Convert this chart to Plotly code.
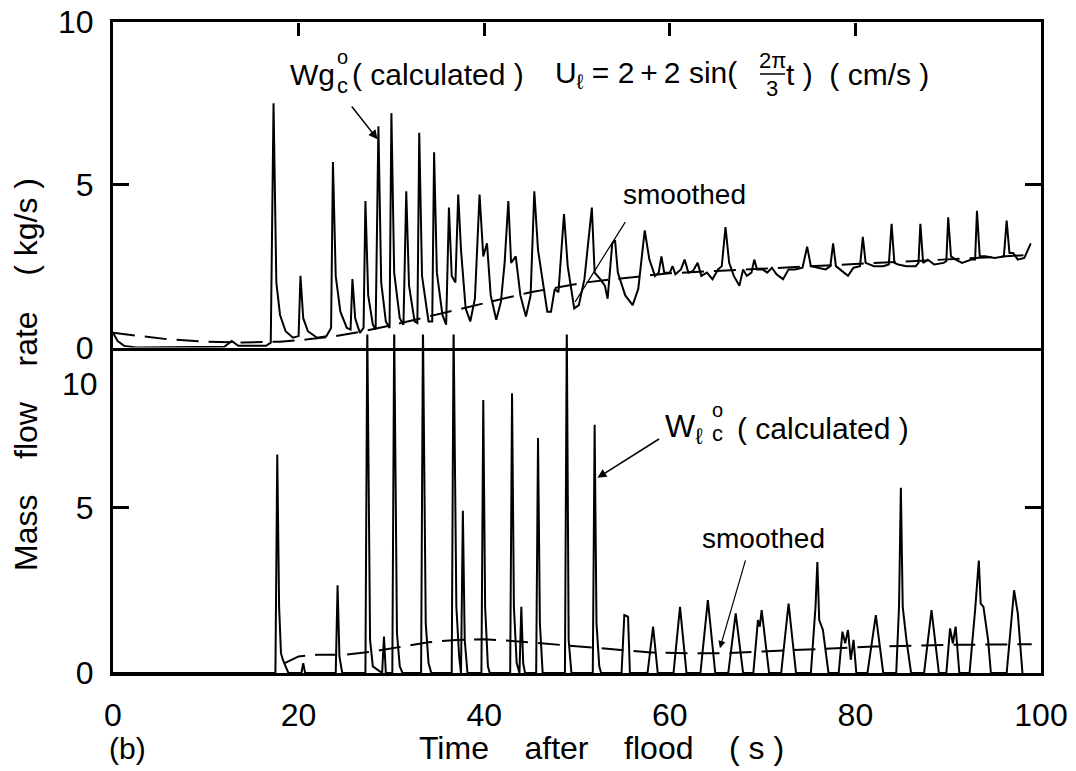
import plotly.graph_objects as go

# ---- data ----
# upper panel: gas mass flow rate Wg (kg/s)
gas_t = [0.0, 0.5, 1.2, 2.5, 12.0, 12.8, 13.5, 16.5, 17.0, 17.3, 17.6, 18.0, 18.6, 19.4,
         20.0, 20.2, 20.5, 21.0, 22.0, 23.0, 23.5, 23.7, 24.0, 24.5, 25.2, 25.6, 25.8,
         26.1, 26.6, 27.0, 27.2, 27.5, 28.0, 28.3, 28.6, 28.9, 29.4, 29.8, 30.0, 30.3,
         30.9, 31.3, 31.6, 31.9, 32.5, 32.8, 33.0, 33.3, 34.0, 34.4, 34.6, 34.9, 35.5,
         35.9, 36.2, 36.5, 36.9, 37.2, 37.5, 38.0, 38.5, 39.0, 39.5, 39.9, 40.3, 40.7,
         41.3, 41.8, 42.2, 42.6, 42.9, 43.4, 43.9, 44.5, 45.0, 45.4, 45.8, 46.3, 46.8,
         47.2, 47.6, 48.0, 48.6, 49.0, 49.7, 50.2, 50.8, 51.6, 51.9, 52.5, 53.0, 53.3,
         53.8, 54.1, 54.4, 55.2, 56.0, 56.6, 57.3, 57.8, 58.4, 58.8, 59.1, 59.4, 60.0,
         60.3, 60.6, 61.2, 61.6, 62.0, 62.5, 63.0, 63.4, 64.0, 64.6, 65.2, 65.6, 66.0,
         66.4, 66.9, 67.5, 67.9, 68.3, 68.8, 69.1, 69.4, 70.0, 70.5, 71.0, 71.5, 72.2,
         72.8, 73.5, 74.3, 74.8, 75.2, 76.0, 76.8, 77.3, 77.6, 77.9, 78.5, 79.2, 79.8,
         80.5, 80.8, 81.1, 82.0, 83.0, 83.6, 83.9, 84.2, 84.6, 85.5, 86.5, 86.8, 87.0,
         87.3, 87.8, 88.5, 89.5, 89.8, 90.0, 90.3, 90.8, 91.5, 92.5, 92.9, 93.1, 93.4,
         94.0, 95.0, 96.0, 96.3, 96.6, 97.0, 97.5, 98.2, 98.9]
gas_w = [0.45, 0.2, 0.05, 0.0, 0.02, 0.2, 0.05, 0.05, 0.15, 7.5, 2.0, 1.0, 0.5, 0.3,
         0.35, 2.2, 0.9, 0.5, 0.3, 0.35, 0.6, 5.7, 2.2, 1.1, 0.6, 0.55, 2.1,
         0.9, 0.45, 0.6, 4.5, 1.6, 0.7, 0.55, 6.8, 2.0, 0.8, 0.6, 7.2, 2.3,
         0.9, 0.7, 4.8, 1.9, 0.8, 0.75, 6.6, 2.2, 0.8, 0.8, 6.0, 2.3, 1.0,
         0.7, 4.3, 2.2, 2.0, 4.7, 3.0, 1.2, 0.8, 1.5, 4.7, 2.8, 3.2, 1.6,
         0.85, 1.4, 2.6, 4.5, 2.6, 2.8, 1.6, 0.95, 1.6, 4.8, 3.0, 2.0, 1.1,
         1.1, 1.8, 1.7, 4.1, 2.5, 1.2, 1.3, 2.1, 4.3, 2.3, 2.1, 1.9, 1.5,
         3.2, 3.3, 2.3, 1.6, 1.3, 1.8, 3.6, 2.7, 2.2, 2.3, 2.8, 2.3, 2.3,
         2.5, 2.25, 2.4, 2.7, 2.3, 2.35, 2.6, 2.2, 2.3, 2.1, 2.4, 2.5, 3.7,
         2.6, 2.2, 1.9, 2.4, 2.2, 2.3, 2.7, 2.4, 2.4, 2.3, 2.45, 2.25, 2.1,
         2.4, 2.4, 2.45, 3.1, 2.5, 2.45, 2.4, 2.5, 3.2, 2.5, 2.35, 2.2, 2.45,
         2.5, 3.4, 2.6, 2.5, 2.5, 2.55, 3.8, 2.6, 2.55, 2.5, 2.5, 2.6, 3.8,
         2.6, 2.7, 2.55, 2.6, 2.65, 4.0, 2.8, 2.7, 2.6, 2.7, 2.7, 4.2, 2.8,
         2.8, 2.75, 2.8, 3.9, 2.9, 2.9, 2.7, 2.75, 3.2]

gas_smooth_t = [0, 3, 6, 10, 14, 18, 21, 24, 27, 30, 33, 36, 39, 42, 45, 48, 51, 54,
                57, 60, 65, 70, 75, 80, 85, 90, 95, 99]
gas_smooth_w = [0.45, 0.35, 0.25, 0.18, 0.15, 0.18, 0.25, 0.35, 0.5, 0.68, 0.88, 1.08,
                1.3, 1.5, 1.7, 1.85, 2.0, 2.1, 2.2, 2.28, 2.35, 2.42, 2.5, 2.56, 2.62,
                2.7, 2.78, 2.85]

# lower panel: liquid mass flow rate Wl (kg/s)
liq_t = [0.0, 17.5, 17.7, 17.9, 18.1, 18.3, 18.9, 20.3, 20.5, 20.7, 24.0, 24.2, 24.4,
         24.7, 27.2, 27.4, 27.7, 28.0, 29.0, 29.2, 29.4, 30.1, 30.3, 30.6, 30.9, 31.2,
         33.2, 33.4, 33.7, 34.0, 34.3, 36.5, 36.7, 37.0, 37.3, 37.5, 37.7, 37.9, 38.2,
         39.7, 39.9, 40.1, 40.4, 40.6, 42.8, 43.0, 43.2, 43.5, 43.8, 44.0, 44.2, 44.4,
         45.6, 45.8, 46.0, 46.3, 48.7, 48.9, 49.1, 49.4, 51.7, 51.9, 52.1, 52.4, 52.6,
         54.8, 55.1, 55.5, 55.7, 57.6, 58.2, 58.7, 60.4, 61.1, 61.8, 63.3, 64.1, 64.9,
         66.3, 67.1, 67.9, 69.0, 69.5, 69.7, 69.9, 70.7, 72.0, 72.8, 73.6, 75.2, 75.7,
         75.9, 76.1, 76.5, 77.1, 78.2, 78.6, 78.9, 79.2, 79.5, 79.8, 80.1, 81.3, 82.2,
         83.0, 84.4, 84.7, 84.9, 85.1, 85.5, 86.0, 87.4, 88.2, 89.0, 89.8, 90.2, 90.5,
         90.8, 91.2, 92.3, 92.9, 93.3, 93.5, 93.8, 94.3, 94.6, 96.3, 97.1, 97.5, 98.0]
liq_w = [0.0, 0.0, 6.6, 2.0, 0.6, 0.4, 0.0, 0.0, 0.3, 0.0, 0.0, 2.65, 0.5,
         0.0, 0.0, 10.5, 1.0, 0.2, 0.0, 1.1, 0.0, 0.0, 10.5, 1.2, 0.2, 0.0,
         0.0, 10.5, 1.5, 0.3, 0.0, 0.0, 10.5, 2.0, 0.5, 0.0, 4.9, 1.0, 0.0,
         0.0, 8.25, 2.0, 0.2, 0.0, 0.0, 8.45, 2.0, 0.3, 0.0, 2.0, 0.3, 0.0,
         0.0, 7.1, 1.5, 0.0, 0.0, 10.5, 1.0, 0.0, 0.0, 7.5, 1.5, 0.2, 0.0,
         0.0, 1.75, 1.7, 0.0, 0.0, 1.4, 0.0, 0.0, 2.0, 0.0, 0.0, 2.2, 0.0,
         0.0, 1.8, 0.0, 0.0, 1.6, 1.4, 1.9, 0.0, 0.0, 2.1, 0.0, 0.0, 2.0,
         3.35, 1.6, 1.3, 0.0, 0.0, 1.25, 0.9, 1.3, 0.4, 1.0, 0.0, 0.0, 1.75,
         0.0, 0.0, 2.0, 5.6, 2.0, 1.0, 0.0, 0.0, 1.9, 0.0, 0.0, 1.35, 0.9,
         1.4, 0.0, 0.0, 1.9, 3.4, 2.1, 2.0, 1.0, 0.0, 0.0, 2.5, 1.8, 0.0]

liq_smooth_t = [18.5, 20, 22, 25, 28, 31, 34, 37, 40, 43, 46, 49, 52, 55, 58, 62, 66,
                70, 74, 78, 82, 86, 90, 95, 99]
liq_smooth_w = [0.3, 0.5, 0.55, 0.55, 0.65, 0.8, 0.93, 1.0, 1.02, 0.97, 0.9, 0.82, 0.75,
                0.68, 0.62, 0.6, 0.6, 0.65, 0.7, 0.75, 0.8, 0.82, 0.85, 0.86, 0.87]

x_ticks = [0, 20, 40, 60, 80, 100]
top_ticks = [20, 40, 60, 80]

FONT = "Liberation Sans"
W, H = 1076, 771
OFF = 8  # the page body margin shifts the figure by 8px
L, R, T, B = 105, 43, 14, 106


def paper(px, py):
    """pixel position in the browser window -> paper coordinates"""
    return (px - OFF - L) / (W - L - R), (H - B - (py - OFF)) / (H - T - B)


fig = go.Figure()

fig.add_trace(go.Scatter(x=gas_t, y=gas_w, mode='lines', xaxis='x2', yaxis='y2',
                         line=dict(color='black', width=2)))
fig.add_trace(go.Scatter(x=gas_smooth_t, y=gas_smooth_w, mode='lines', xaxis='x2', yaxis='y2',
                         line=dict(color='black', width=2, dash='22px,10px')))
fig.add_trace(go.Scatter(x=liq_t, y=liq_w, mode='lines',
                         line=dict(color='black', width=2)))
fig.add_trace(go.Scatter(x=liq_smooth_t, y=liq_smooth_w, mode='lines',
                         line=dict(color='black', width=2, dash='22px,10px')))

axis_common = dict(showgrid=False, zeroline=False, showline=True, linecolor='black',
                   linewidth=3, tickcolor='black', tickwidth=2.5, automargin=False,
                   ticklabeloverflow='allow',
                   tickfont=dict(family=FONT, size=32, color='black'))

fig.update_layout(
    width=W, height=H,
    margin=dict(l=L, r=R, t=T, b=B, autoexpand=False),
    paper_bgcolor='white', plot_bgcolor='rgba(0,0,0,0)',
    showlegend=False,
    font=dict(family=FONT, color='black'),
    xaxis=dict(axis_common, domain=[0, 1], range=[0, 100], tickvals=x_ticks,
               ticks='', mirror=False, ticklabelstandoff=12, anchor='y'),
    yaxis=dict(axis_common, domain=[0, 0.52], range=[0, 10.23], tickvals=[0, 5],
               ticks='inside', ticklen=16, mirror='ticks', ticklabelstandoff=10,
               anchor='x'),
    xaxis2=dict(axis_common, domain=[0, 1], range=[0, 100], showticklabels=False,
                ticks='', mirror=True, anchor='y2'),
    # free axis pinned to the top edge, only for the time ticks
    xaxis3=dict(axis_common, domain=[0, 1], range=[0, 100], tickvals=top_ticks,
                overlaying='x2', anchor='free', position=1, side='top',
                ticks='inside', ticklen=13, tickwidth=3, showline=False,
                showticklabels=False),
    yaxis2=dict(axis_common, domain=[0.5, 1], range=[0, 10], tickvals=[0, 5, 10],
                ticks='inside', ticklen=16, mirror='ticks', ticklabelstandoff=10,
                anchor='x2'),
)

# the free top axis needs a trace to be drawn; reuse the smoothed gas curve, invisible
fig.add_trace(go.Scatter(x=gas_smooth_t, y=gas_smooth_w, mode='lines', xaxis='x3', yaxis='y2',
                         line=dict(color='rgba(0,0,0,0)', width=0), hoverinfo='skip'))

ann = []


def label(text, px, py, size=30, xanchor='center', **kw):
    x, y = paper(px, py)
    ann.append(dict(text=text, x=x, y=y, xref='paper', yref='paper', showarrow=False,
                    xanchor=xanchor, yanchor='middle',
                    font=dict(family=FONT, size=size, color='black'), **kw))


# tick label "10" of the lower panel sits below the divider
label('10', 100, 384, size=32, xanchor='right')

# axis titles
label('Mass\u00a0\u00a0\u00a0\u00a0flow\u00a0\u00a0\u00a0\u00a0rate\u00a0\u00a0\u00a0\u00a0(\u00a0kg/s\u00a0)',
      26, 375, size=32, textangle=-90)
label('Time\u00a0\u00a0\u00a0\u00a0after\u00a0\u00a0\u00a0\u00a0flood\u00a0\u00a0\u00a0\u00a0(\u00a0s\u00a0)',
      601, 748, size=32)
label('(b)', 127, 748, size=30)

# upper panel text
label('Wg', 288, 74, size=30, xanchor='left')
label('o', 342, 57, size=20)
label('c', 342, 85, size=22)
label('(\u00a0calculated\u00a0)', 438, 74, size=30)
label('U<sub>\u2113</sub>\u00a0=\u00a02\u2009+\u20092\u00a0sin(', 553, 74, size=30, xanchor='left')
label('2\u03c0', 772, 60, size=22)
label('3', 772, 88, size=22)
label('t\u00a0)\u00a0\u00a0(\u00a0cm/s\u00a0)', 784, 74, size=30, xanchor='left')
label('smoothed', 684, 194, size=28)

# lower panel text
label('W<sub>\u2113</sub>', 663, 428, size=32, xanchor='left')
label('o', 717, 410, size=20)
label('c', 717, 433, size=22)
label('(\u00a0calculated\u00a0)', 823, 428, size=30)
label('smoothed', 763, 538, size=28)

# pointer lines
ann.append(dict(x=28.5, y=6.4, ax=25.6, ay=7.45, xref='x2', yref='y2', axref='x2', ayref='y2',
                text='', showarrow=True, arrowhead=2, arrowsize=1.2, arrowwidth=1.5,
                arrowcolor='black'))
ann.append(dict(x=49.8, y=1.4, ax=55.3, ay=3.9, xref='x2', yref='y2', axref='x2', ayref='y2',
                text='', showarrow=True, arrowhead=0, arrowwidth=1.2, arrowcolor='black'))
ann.append(dict(x=52.2, y=5.9, ax=59.0, ay=7.1, xref='x', yref='y', axref='x', ayref='y',
                text='', showarrow=True, arrowhead=2, arrowsize=1.2, arrowwidth=1.5,
                arrowcolor='black'))
ann.append(dict(x=65.4, y=0.75, ax=68.2, ay=3.45, xref='x', yref='y', axref='x', ayref='y',
                text='', showarrow=True, arrowhead=2, arrowsize=1.2, arrowwidth=1.2,
                arrowcolor='black'))

fig.update_layout(annotations=ann)

# fraction bar of 2pi/3
x0, y0 = paper(760, 74)
x1, _ = paper(785, 74)
fig.add_shape(type='line', xref='paper', yref='paper', x0=x0, x1=x1, y0=y0, y1=y0,
              line=dict(color='black', width=1.5))

fig.write_html("out.html")
